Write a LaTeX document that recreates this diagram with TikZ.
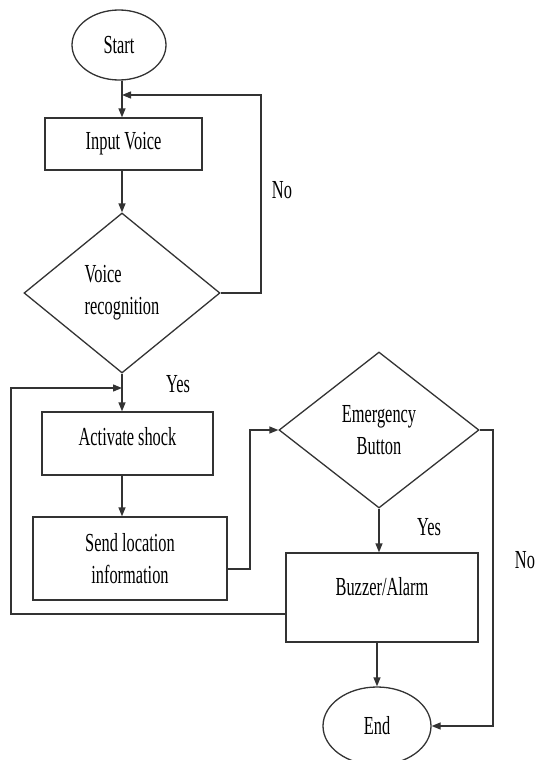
\documentclass[tikz,border=0pt]{standalone}
\usepackage{fontspec}
\setmainfont{Liberation Serif}[FakeStretch=0.63]
\usetikzlibrary{shapes.geometric,arrows.meta}

\begin{document}
\begin{tikzpicture}[x=1pt,y=-1pt,>={Triangle[length=9pt,width=7pt]},font=\fontsize{26}{32}\selectfont]
        \tikzstyle{terminal}=[ellipse,draw=black!80,line width=1.3pt,inner sep=0pt]
        \tikzstyle{process}=[rectangle,draw=black!80,line width=1.3pt,align=center,inner sep=0pt]
        \tikzstyle{decision}=[diamond,draw=black!80,line width=1.3pt,align=center,inner sep=0pt]
        \tikzstyle{edge}=[draw=black!80,line width=1.3pt,->]
        \useasboundingbox (0,0) rectangle (536,760);
       \begin{scope}
         \node [terminal,minimum width=94pt,minimum height=70pt] (start) at (119,45) {Start};
         \node [process,minimum width=157pt,minimum height=52pt] (input) at (123.5,144) {Input Voice};
         \node [decision,align=left,minimum width=196pt,minimum height=160pt] (vr) at (122,293) {Voice\\recognition};
         \node [process,minimum width=171pt,minimum height=63pt,text height=18pt,text depth=14pt] (act) at (127.5,443.5) {Activate shock};
         \node [process,minimum width=194pt,minimum height=83pt] (send) at (130,558.5) {Send location\\information};
         \node [decision,minimum width=200pt,minimum height=156pt] (em) at (379,430) {Emergency\\Button};
         \node [process,minimum width=192pt,minimum height=89pt,text height=18pt,text depth=22pt] (buzzer) at (382,597.5) {Buzzer/Alarm};
         \node [terminal,minimum width=108pt,minimum height=78pt] (end) at (377,726) {End};

         \node (no1) at (282,190) {No};
         \node (yes1) at (178,384) {Yes};
         \node (yes2) at (429,527) {Yes};
         \node (no2) at (525,560) {No};

         \coordinate (noloop) at (261,95);
         \coordinate (back) at (11,388);
         \coordinate (backlow) at (11,614);
         \coordinate (jog) at (250,569);
         \coordinate (noright) at (493,430);

         \path[edge] (start.south -| vr.north) -- (input.north -| vr.north);
         \path[edge] (vr.east) -| (noloop) -- (noloop -| vr.north);
         \path[edge] (input.south -| vr.north) -- (vr.north);
         \path[edge] (vr.south) -- (act.north -| vr.south);
         \path[edge] (buzzer.west |- backlow) -| (back) -- (back -| vr.south);
         \path[edge] (act.south -| vr.south) -- (send.north -| vr.south);
         \path[edge] (send.east |- jog) -- (jog) |- (em.west);
         \path[edge] (em.south) -- (buzzer.north -| em.south);
         \path[edge] (em.east) -- (noright) |- (end.east);
         \path[edge] (buzzer.south -| end.north) -- (end.north);
        \end{scope}
      \end{tikzpicture}
\end{document}
